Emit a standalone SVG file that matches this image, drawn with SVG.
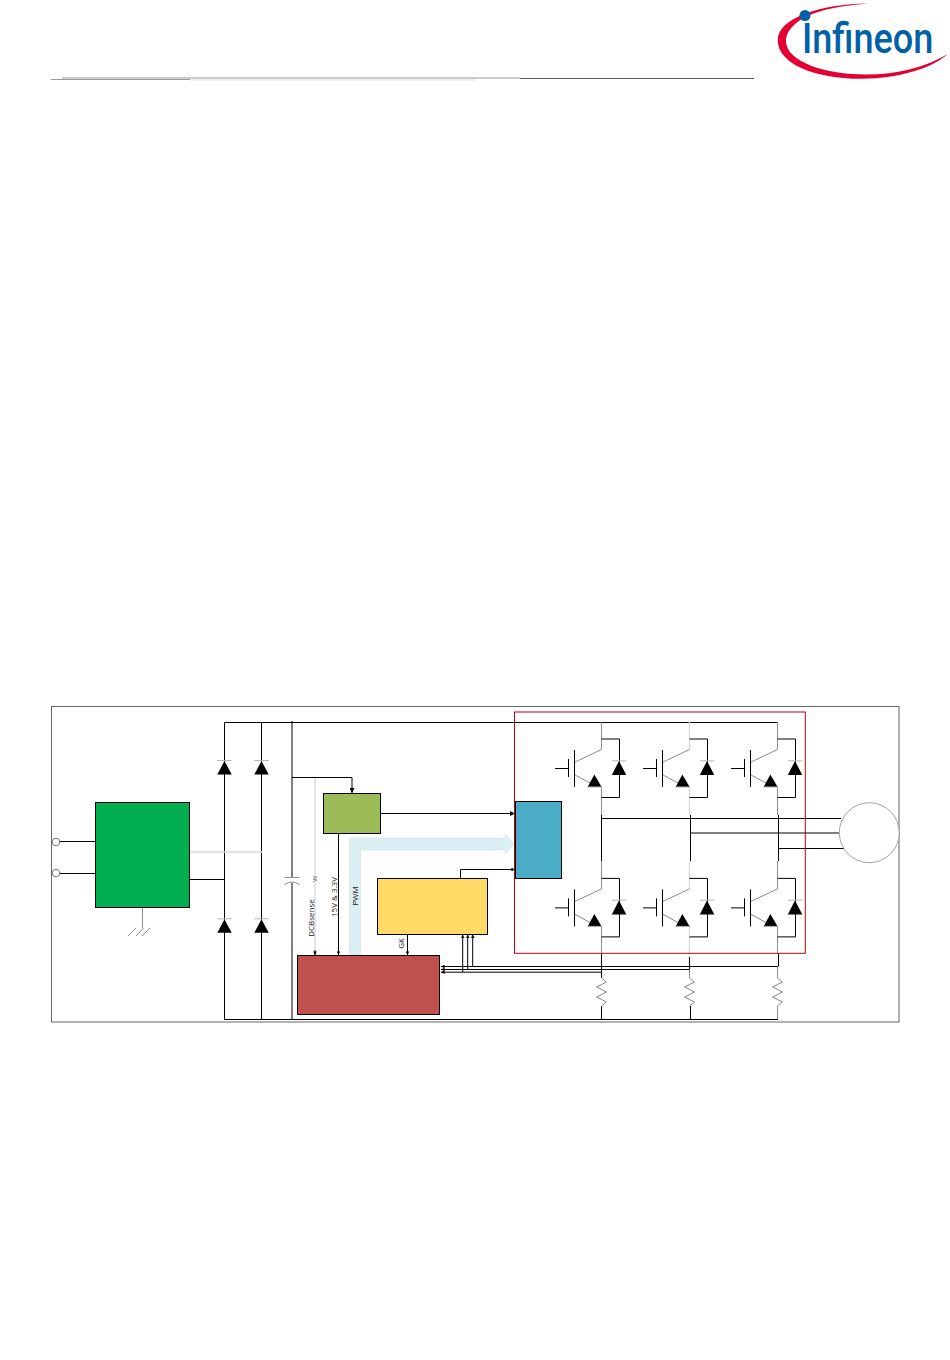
<svg xmlns="http://www.w3.org/2000/svg" width="950" height="1360" viewBox="0 0 950 1360">
<style>
.k{fill:none;stroke:#000;stroke-width:1}
.g{fill:none;stroke:#8c8c8c;stroke-width:1}
.lg{fill:none;stroke:#d9d9d9;stroke-width:1.4}
.box{stroke:#000;stroke-width:1}
.t{font-family:"Open Sans","DejaVu Sans",sans-serif;font-size:8px;fill:#222;text-anchor:middle}
.tri{fill:#000}
.bar{fill:none;stroke:#b5b5b5;stroke-width:1}
</style>
<defs>
<marker id="ah" viewBox="0 0 6 6" refX="6" refY="3" markerWidth="5" markerHeight="5" markerUnits="userSpaceOnUse" orient="auto"><path d="M0,0L6,3L0,6Z" fill="#000"/></marker>
<marker id="as" viewBox="0 0 6 6" refX="6" refY="3" markerWidth="3.6" markerHeight="3.6" markerUnits="userSpaceOnUse" orient="auto"><path d="M0,0L6,3L0,6Z" fill="#000"/></marker>
<g id="igbt">
<path class="g" d="M601.5,749.5L575,762M575,775L590,783"/>
<path class="k" d="M574.5,750V787M568.5,759V777M555,768.5H568.5"/>
<path class="tri" d="M594.3,774.5L601.7,787H587.7Z"/>
<path class="bar" d="M587.7,787H601.7"/>
<path class="k" d="M601.5,739H619.5V797.5H601.5"/>
<path class="tri" d="M619,761L626.3,775H611.8Z"/>
<path class="bar" d="M611.8,760.8H626.3"/>
</g>
<g id="dio"><path class="tri" d="M224.5,761L231.7,774.5H217.3Z"/><path class="bar" d="M217.3,760.5H231.7"/></g>
<g id="res"><path class="g" d="M0,978L5,982L-5,987L5,992L-5,997L5,1002L0,1006"/></g>
</defs>

<g id="header">
<path d="M62,78H520" stroke="#999" stroke-width="1" fill="none"/>
<path d="M51,79.5H190" stroke="#999" stroke-width="1.2" fill="none"/>
<path d="M190,80H475" stroke="#ddd" stroke-width="1" fill="none"/>
<path d="M520,78.5H754" stroke="#555" stroke-width="1" fill="none"/>
</g>
<g id="logo">
<path fill="#e30034" d="M868,3.5C820,4 778,18 777.7,40C777.5,64 815,79 862,78.8C900,78.5 932,68 948,54C926,67 897,74.5 866,74.5C826,74.5 786,62 786,41C786,30 797,20 812,14C828,8 848,5 868,3.5Z"/>
<circle cx="805" cy="15.5" r="5.5" fill="#0060a8"/>
<text transform="translate(802,53) scale(.84,1)" font-family="Roboto,'Liberation Sans',sans-serif" font-size="43" font-weight="500" fill="#0060a8">Infineon</text>
</g>

<rect id="frame" x="51.5" y="706.5" width="847.5" height="315.5" fill="#fff" stroke="#666" stroke-width="1"/>

<g id="pwm-bus">
<path fill="#daeef3" stroke="#d5e8d4" stroke-width=".6" d="M349.5,955V838H505V834L514,844L505,854V850H360.5V955Z"/>
<text class="t" transform="translate(358,896) rotate(-90)">PWM</text>
</g>

<g id="connectors">
<path class="k" d="M224.5,722.5H778M224.5,1019.5H778M224.5,722.5V1019.5M261.5,722V1019.5"/>
<path class="k" d="M189,879.5H225"/>
<path class="lg" d="M189,852H262"/>
<path class="k" d="M292,777.5H352"/>
<path class="k" marker-end="url(#ah)" d="M352,777.5V793"/>
<path stroke="#d9d9d9" stroke-width="1.4" fill="none" d="M315,778V875M315,883V950"/>
<path class="g" d="M313,876L317,877L313,879L317,880L313,882"/>
<path class="k" marker-end="url(#as)" d="M315,950V955"/>
<path class="k" marker-end="url(#as)" d="M338.5,833.5V955"/>
<path class="k" marker-end="url(#ah)" d="M381,813.5H515"/>
<path class="k" marker-end="url(#as)" d="M460.5,878V869.5H515"/>
<path class="k" marker-end="url(#as)" d="M407.5,934V955"/>
<path class="k" marker-end="url(#as)" d="M778,966.5H441"/>
<path class="k" marker-end="url(#as)" d="M690,969.5H441"/>
<path class="k" marker-end="url(#as)" d="M602,972.2H441"/>
<path class="k" marker-end="url(#as)" d="M462.7,972V934.5"/>
<path class="k" marker-end="url(#as)" d="M467.7,969.5V934.5"/>
<path class="k" marker-end="url(#as)" d="M472.7,966.5V934.5"/>
<path class="k" d="M56,841.5H95M56,873.5H95"/>
<path class="g" d="M142.5,907.5V928M128,936L136,928M136,936L143.5,928M142,936L150,928"/>
<path class="k" d="M601.5,818.5H841M690,833H839M778,848.5H845"/>
<path class="g" d="M601.5,722V749.5M601.5,787V815M601.5,861V889M601.5,926V954"/>
<path class="lg" d="M689.5,722V749.5M689.5,787V815M689.5,861V889M689.5,926V957"/>
<path class="g" d="M777.5,722V749.5M777.5,787V815M777.5,861V889M777.5,926V954M777.5,1006V1019"/>
<path class="g" d="M689.5,957V978"/>
<path class="k" d="M601.5,815V861M690.5,815V861M778.5,815V861M601.5,954V978M689.5,957V969.5M778.5,954V966.5M601.5,1006V1019M690.5,1006V1019"/>
<path class="g" d="M777.5,966.5V978"/>
</g>

<rect id="red-frame" x="514.5" y="712" width="290.8" height="241.3" fill="none" stroke="#c00000" stroke-width="1"/>

<g id="filter"><rect class="box" x="95.5" y="802.5" width="94" height="105" fill="#00b050"/></g>
<g id="terminal-1"><circle cx="56" cy="842" r="3.8" fill="#fff" stroke="#555" stroke-width=".8"/></g>
<g id="terminal-2"><circle cx="56" cy="873" r="3.8" fill="#fff" stroke="#555" stroke-width=".8"/></g>
<g id="d1"><use href="#dio"/></g>
<g id="d2"><use href="#dio" x="37"/></g>
<g id="d3"><use href="#dio" y="158.3"/></g>
<g id="d4"><use href="#dio" x="37" y="158.3"/></g>
<g id="capacitor"><path class="k" d="M292,721V878M292,883V1019.5"/><path class="g" d="M284.5,877.5H299.5M284.5,884.5Q292,879.5 299.5,884.5"/></g>
<g id="supply"><rect class="box" x="323.5" y="793.5" width="57" height="40" fill="#9bbb59"/></g>
<g id="driver"><rect class="box" x="515.5" y="801.5" width="46" height="77" fill="#4bacc6"/></g>
<g id="yellow-block"><rect class="box" x="377.5" y="878.5" width="110" height="56" fill="#ffd966"/></g>
<g id="controller"><rect class="box" x="297.5" y="955.5" width="142" height="59" fill="#c0504d"/></g>

<g id="q1"><use href="#igbt"/></g>
<g id="q2"><use href="#igbt" x="88"/></g>
<g id="q3"><use href="#igbt" x="176"/></g>
<g id="q4"><use href="#igbt" y="139.4"/></g>
<g id="q5"><use href="#igbt" x="88" y="139.4"/></g>
<g id="q6"><use href="#igbt" x="176" y="139.4"/></g>
<g id="r1"><use href="#res" x="601.5"/></g>
<g id="r2"><use href="#res" x="689.5"/></g>
<g id="r3"><use href="#res" x="777.5"/></g>
<g id="motor"><circle cx="869.3" cy="832.7" r="30" fill="#fff" stroke="#8c8c8c" stroke-width=".8"/></g>

<g id="labels">
<text class="t" transform="translate(314,918) rotate(-90)">DCBsense</text>
<text class="t" transform="translate(337,897) rotate(-90)">15V &amp; 3.3V</text>
<text class="t" transform="translate(404,943.5) rotate(-90)">GK</text>
</g>
</svg>
